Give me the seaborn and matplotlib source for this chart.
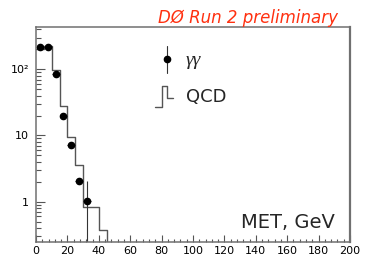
import numpy as np
import matplotlib
matplotlib.use("Agg")
import matplotlib.pyplot as plt
import seaborn as sns
from matplotlib.lines import Line2D
from matplotlib.legend_handler import HandlerBase
from matplotlib.ticker import LogLocator, MultipleLocator, NullFormatter

# QCD background, 5 GeV bins
qcd_edges = [0, 5, 10, 15, 20, 25, 30, 35, 40, 45, 50]
qcd_counts = [200, 228, 98, 28, 9.6, 3.6, 0.84, 0.84, 0.37, 0]

# diphoton candidates
gg_met = [2.5, 7.5, 12.5, 17.5, 22.5, 27.5, 32.5]
gg_counts = [220, 220, 85, 20, 7.2, 2.05, 1.04]
gg_err_low = [0, 0, 0, 0, 0, 0, 1.035]
gg_err_high = [0, 0, 0, 0, 0, 0, 1.0]

xticks = [0, 20, 40, 60, 80, 100, 120, 140, 160, 180, 200]
yticks = [1, 10, 100]
ytick_labels = ["1", "10", "10²"]

sns.set_style("white")
plt.rcParams["font.family"] = ["DejaVu Sans"]

fig = plt.figure(figsize=(3.79, 2.73), dpi=100)
ax = fig.add_axes([0.095, 0.1136, 0.8285, 0.7887])

centers = (np.array(qcd_edges[:-1]) + np.array(qcd_edges[1:])) / 2
sns.histplot(x=centers, weights=qcd_counts, bins=qcd_edges, element="step",
             fill=False, color="#555555", linewidth=1.0, ax=ax)

ax.errorbar(gg_met, gg_counts, xerr=2.5, yerr=[gg_err_low, gg_err_high],
            fmt="o", color="black", ms=4.5, elinewidth=0.8, ecolor="#333333",
            capsize=0)

ax.set_yscale("log")
ax.set_xlim(0, 200)
ax.set_ylim(0.246, 440)
ax.set_xlabel("")
ax.set_ylabel("")

ax.set_xticks(xticks)
ax.xaxis.set_minor_locator(MultipleLocator(4))
ax.set_yticks(yticks, labels=ytick_labels)
ax.yaxis.set_minor_locator(LogLocator(base=10, subs=np.arange(2, 10)))
ax.yaxis.set_minor_formatter(NullFormatter())

ax.tick_params(axis="both", which="both", direction="in", colors="#555555",
               labelcolor="black", labelsize=8, width=0.8)
ax.tick_params(axis="y", which="major", length=6.5, pad=5, left=True)
ax.tick_params(axis="y", which="minor", length=3.5, left=True)
ax.tick_params(axis="x", which="major", length=5, pad=3, bottom=True)
ax.tick_params(axis="x", which="minor", length=2.5, bottom=True)

for side in ["left", "bottom", "top", "right"]:
    ax.spines[side].set_color("#707070")
    ax.spines[side].set_linewidth(1.1)
ax.spines["right"].set_linewidth(1.6)


class ErrHandler(HandlerBase):
    def create_artists(self, legend, orig_handle, xdescent, ydescent,
                       width, height, fontsize, trans):
        cx = 0.68 * width - xdescent
        cy = height / 2 - ydescent
        bar = Line2D([cx, cx], [cy - 0.64 * height, cy + 0.64 * height],
                     color="#333333", lw=0.8, transform=trans)
        dot = Line2D([cx], [cy], marker="o", ms=4.5, color="black",
                     ls="none", transform=trans)
        return [bar, dot]


class StepHandler(HandlerBase):
    def create_artists(self, legend, orig_handle, xdescent, ydescent,
                       width, height, fontsize, trans):
        fx = [0, 0.37, 0.37, 0.65, 0.65, 1.0]
        fy = [-0.05, -0.05, 0.95, 0.95, 0.4, 0.4]
        line = Line2D([f * width - xdescent for f in fx],
                      [f * height - ydescent for f in fy],
                      color="#555555", lw=1.0, transform=trans)
        return [line]


h_gg = Line2D([], [])
h_qcd = Line2D([], [], color="grey")
leg = ax.legend([h_gg, h_qcd], ["γγ", "QCD"],
                handler_map={h_gg: ErrHandler(), h_qcd: StepHandler()},
                loc="upper left", bbox_to_anchor=(155 / 379, 1 - 49 / 273),
                bbox_transform=fig.transFigure, frameon=False, fontsize=13,
                handlelength=1.0, handleheight=1.4, handletextpad=0.72,
                labelspacing=0.85, borderpad=0, borderaxespad=0)
t_gg = leg.get_texts()[0]
t_gg.set_fontfamily("Liberation Serif")
t_gg.set_style("italic")
t_gg.set_fontsize(14)

ax.text(0.952, 0.065, "MET, GeV", transform=ax.transAxes, ha="right",
        va="baseline", fontsize=14)
fig.text(158 / 379, 1 - 23 / 273, "DØ Run 2 preliminary", color="#ff3010",
         fontsize=12, style="italic", ha="left", va="baseline")

fig.savefig("out.png", dpi=100)
